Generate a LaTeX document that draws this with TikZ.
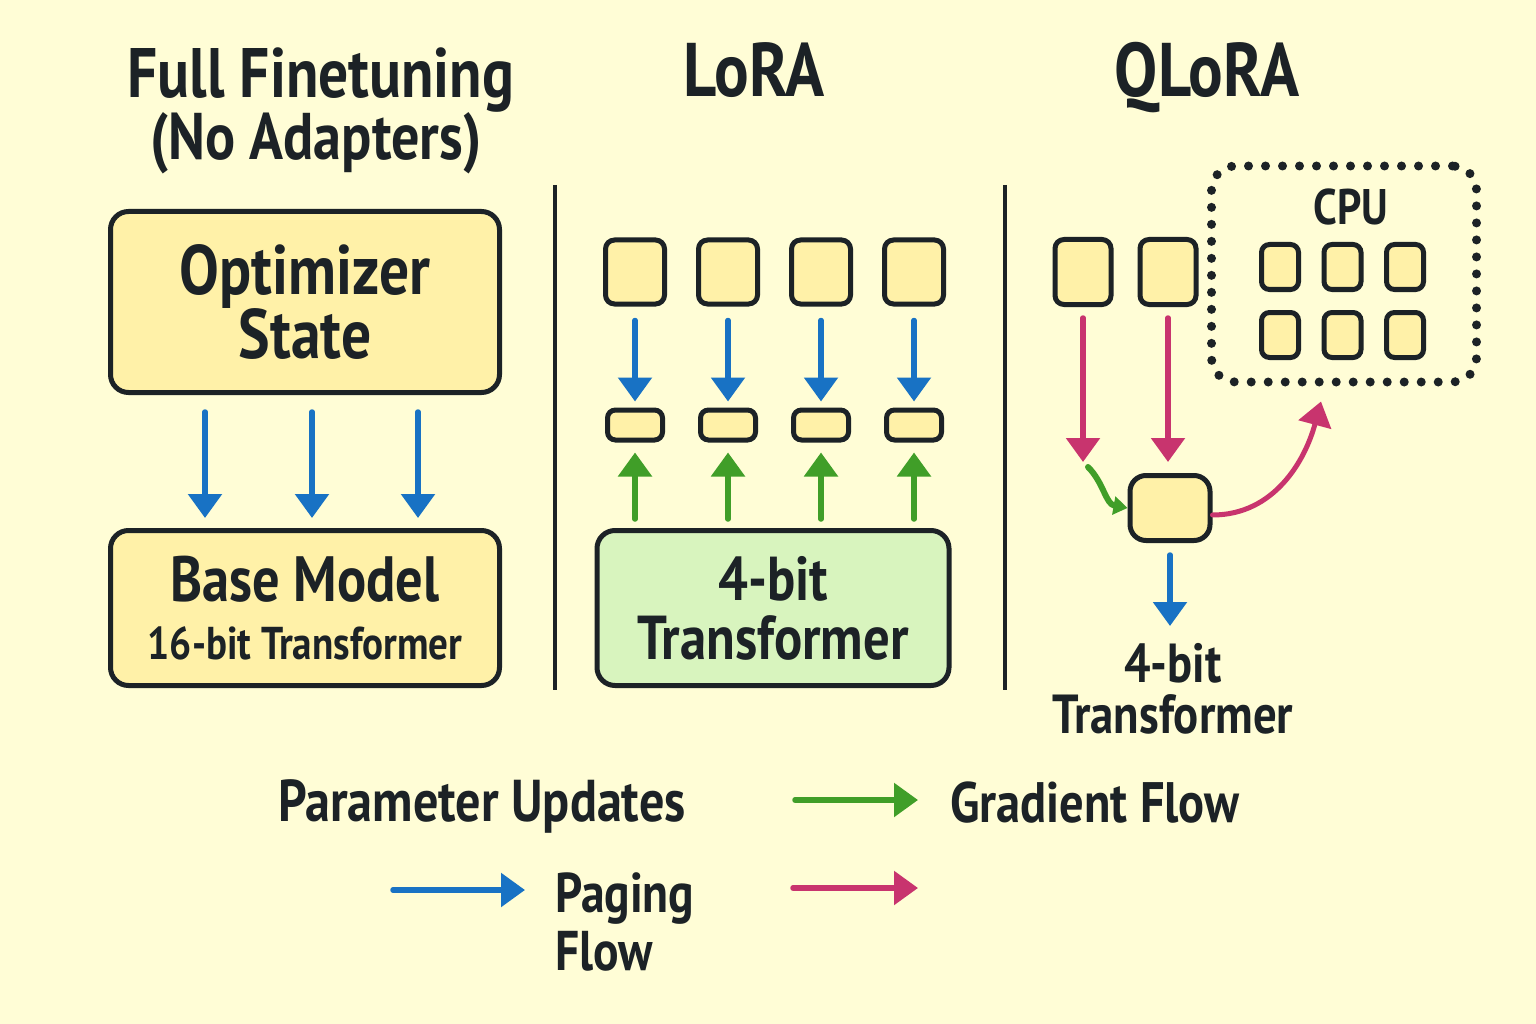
\documentclass[tikz,border=0pt]{standalone}
\usepackage{fontspec}
\setmainfont{PT Sans}[FakeStretch=0.85]
\usepackage{tikz}
\usetikzlibrary{arrows.meta,positioning}

\definecolor{bgcol}{RGB}{255,253,214}
\definecolor{boxyellow}{RGB}{255,241,168}
\definecolor{boxgreen}{RGB}{216,244,190}
\definecolor{inkcol}{RGB}{28,34,38}
\definecolor{updblue}{RGB}{24,114,196}
\definecolor{gradgreen}{RGB}{64,158,40}
\definecolor{pagepink}{RGB}{200,52,110}

\begin{document}
\begin{tikzpicture}[x=1pt, y=-1pt,
    box/.style={draw=inkcol, line width=5pt, rounded corners=18pt, fill=boxyellow,
                text=inkcol, align=center, inner sep=0pt},
    cell/.style={draw=inkcol, line width=5pt, rounded corners=9pt, fill=boxyellow, inner sep=0pt},
    flow/.style={line width=5.5pt, line cap=round, -{Triangle[length=24pt, width=33pt]}},
    txt/.style={text=inkcol, inner sep=0pt, align=center},
  ]

    % Define parameters
    \def\colStep{93}      % distance between the LoRA columns
    \def\cellStepX{62.5}  % CPU grid
    \def\cellStepY{68}

    % Background
    \fill[bgcol] (0,0) rectangle (1536,1024);

    % Column titles
    \node[txt, font=\bfseries\fontsize{70}{75}\selectfont, anchor=base] (fullTitle) at (321,98) {Full Finetuning};
    \node[txt, font=\bfseries\fontsize{66}{70}\selectfont, anchor=base] (fullSub) at (316,160) {(No Adapters)};
    \node[txt, font=\bfseries\fontsize{76}{80}\selectfont, anchor=base] (loraTitle) at (754,97) {LoRA};
    \node[txt, font=\bfseries\fontsize{76}{80}\selectfont, anchor=base] (qloraTitle) at (1207,97) {QLoRA};

    % Column separators
    \draw[inkcol, line width=3.5pt] (555,185) -- (555,690);
    \draw[inkcol, line width=3.5pt] (1005,185) -- (1005,690);

    % Full finetuning
    \node[box, minimum width=389pt, minimum height=181pt, font=\bfseries\fontsize{70}{64}\selectfont] (opt) at (305,302) {Optimizer\\State};
    \node[box, minimum width=389pt, minimum height=155pt, font=\bfseries\fontsize{46}{58}\selectfont] (base) at (305,608)
        {{\fontsize{64}{58}\selectfont Base Model}\\16-bit Transformer};
    \foreach \dx in {-100,7,113}
        \draw[flow, updblue] ([xshift=\dx pt, yshift=-17pt]opt.south) -- ([xshift=\dx pt, yshift=10pt]base.north);

    % LoRA
    \node[box, fill=boxgreen, minimum width=352pt, minimum height=155pt, font=\bfseries\fontsize{62}{59}\selectfont] (lbase) at (773,608) {4-bit\\Transformer};
    \foreach \i in {1,...,4} {
        \pgfmathsetmacro{\cx}{635 + (\i-1)*\colStep}
        \node[cell, minimum width=59pt, minimum height=64pt] (w\i) at (\cx,272) {};
        \node[cell, minimum width=55pt, minimum height=30pt, rounded corners=8pt] (a\i) at (\cx,425) {};
        \draw[flow, updblue] ([yshift=-14pt]w\i.south) -- ([yshift=6pt]a\i.north);
        \draw[flow, gradgreen] ([yshift=9pt]a\i.south |- lbase.north) -- ([yshift=-10pt]a\i.south);
    }

    % QLoRA
    \node[cell, minimum width=56pt, minimum height=65pt] (q1) at (1083,272) {};
    \node[cell, minimum width=56pt, minimum height=65pt, right=24pt of q1] (q2) {};
    \node[cell, minimum width=80pt, minimum height=65pt, rounded corners=16pt] (qmid) at (1170,508) {};

    % CPU with paged cells
    \node[draw=inkcol, line width=9pt, dash pattern=on 0pt off 17pt, line cap=round,
          rounded corners=24pt, minimum width=265pt, minimum height=216pt] (cpu) at (1344,274) {};
    \node[txt, font=\bfseries\fontsize{50}{50}\selectfont, anchor=base] (cpuTitle) at (1351,225) {CPU};
    \foreach \r in {0,1}
        \foreach \c in {0,1,2} {
            \pgfmathsetmacro{\gx}{1280 + \c*\cellStepX}
            \pgfmathsetmacro{\gy}{267 + \r*\cellStepY}
            \node[cell, minimum width=37pt, minimum height=45pt, rounded corners=8pt] (g\r\c) at (\gx,\gy) {};
        }

    \draw[flow, pagepink] ([yshift=-11pt]q1.south) -- ([yshift=11pt]q1.south |- qmid.north);
    \draw[flow, pagepink] ([yshift=-11pt]q2.south) -- ([yshift=11pt]q2.south |- qmid.north);
    \coordinate (gradIn) at (1088,467);
    \draw[gradgreen, line width=6pt, line cap=round, -{Triangle[length=14pt, width=18pt]}] (gradIn) to[out=-45, in=170] (qmid.west);
    \draw[flow, pagepink, line width=5pt] ([yshift=-7pt]qmid.east) to[out=0, in=-105] ([xshift=-23pt, yshift=-15pt]cpu.south);

    \node[txt, font=\bfseries\fontsize{55}{51}\selectfont, anchor=north] (qout) at (1173,643) {4-bit\\Transformer};
    \draw[flow, updblue] ([yshift=-12pt]qmid.south) -- ([yshift=17pt]qmid.south |- qout.north);

    % Legend
    \node[txt, font=\bfseries\fontsize{59}{60}\selectfont, anchor=base] (legParam) at (482,821) {Parameter Updates};
    \node[txt, font=\bfseries\fontsize{57}{60}\selectfont, anchor=base west] (legGrad) at (950,822) {Gradient Flow};
    \coordinate (gradKey) at (795,800);
    \draw[flow, gradgreen, shorten >=32pt] (gradKey) -- (gradKey -| legGrad.west);

    \node[txt, font=\bfseries\fontsize{56}{58}\selectfont, align=left, anchor=north west] (legPage) at (555,872) {Paging\\Flow};
    \coordinate (pageKey) at (393,890);
    \draw[flow, updblue, shorten >=30pt] (pageKey) -- (pageKey -| legPage.west);

    \coordinate (pinkKeyA) at (793,888);
    \coordinate (pinkKeyB) at (918,888);
    \draw[flow, pagepink] (pinkKeyA) -- (pinkKeyB);

\end{tikzpicture}
\end{document}
